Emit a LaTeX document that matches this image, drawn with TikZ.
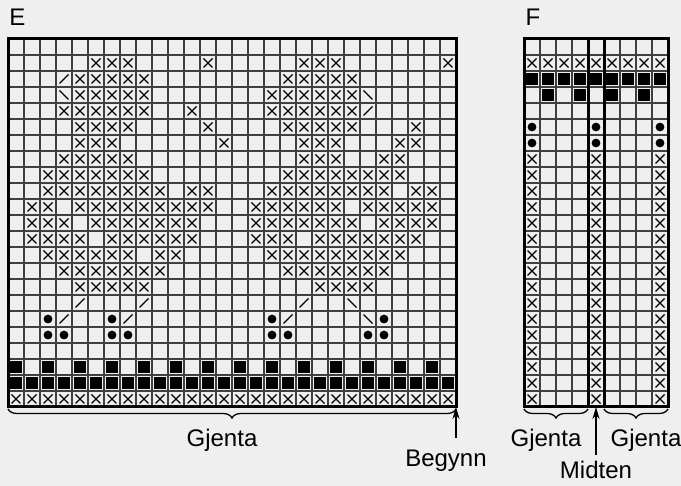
\documentclass[tikz,border=0pt]{standalone}
\usepackage{fontspec}
\setmainfont{Liberation Sans}
\usetikzlibrary{decorations.pathreplacing,arrows.meta}
\definecolor{bgc}{HTML}{EFEFEF}
% symbol helpers: #1 = x offset of chart, #2 = row, #3 = list of columns
\newcommand{\kX}[3]{\foreach \c in {#3}{\draw[xmark] ({#1+16*\c-4.5},{16*#2+31-4.5}) -- ++(9,9) ({#1+16*\c-4.5},{16*#2+31+4.5}) -- ++(9,-9);}}
\newcommand{\kSq}[3]{\foreach \c in {#3}{\fill ({#1+16*\c-5.7},{16*#2+31-5.7}) rectangle ++(11.4,11.4);}}
\newcommand{\kDot}[3]{\foreach \c in {#3}{\fill ({#1+16*\c},{16*#2+31}) circle[radius=4.4pt];}}
\newcommand{\kSl}[3]{\foreach \c in {#3}{\draw[xmark] ({#1+16*\c-4.5},{16*#2+31+4.5}) -- ++(9,-9);}}
\newcommand{\kBs}[3]{\foreach \c in {#3}{\draw[xmark] ({#1+16*\c-4.5},{16*#2+31-4.5}) -- ++(9,9);}}
\begin{document}
\begin{tikzpicture}[x=1pt,y=-1pt,
  gridline/.style={line width=1.2pt, draw=black!75},
  frame/.style={line width=3pt, draw=black},
  xmark/.style={line width=1.3pt},
  lbl/.style={font=\fontsize{24}{28}\selectfont, inner sep=0pt, anchor=base},
  bracestyle/.style={decorate, decoration={brace, amplitude=9pt, mirror}, line width=1.3pt},
  arr/.style={-{Stealth[length=12pt,width=7pt]}, line width=1.8pt}]
\fill[bgc] (0,0) rectangle (681,486);
\useasboundingbox (0,0) rectangle (681,486);

% ---------- Chart E ----------
\foreach \i in {1,...,27} \draw[gridline] ({8+16*\i},39) -- ({8+16*\i},407);
\foreach \j in {1,...,22} \draw[gridline] (8,{39+16*\j}) -- (456,{39+16*\j});
\kX{0}{2}{6,7,8,13,19,20,21,28}
\kX{0}{3}{5,6,7,8,9,18,19,20,21,22}
\kSl{0}{3}{4}
\kX{0}{4}{5,6,7,8,9,17,18,19,20,21,22}
\kBs{0}{4}{4,23}
\kX{0}{5}{4,5,6,7,8,9,12,17,18,19,20,21,22}
\kSl{0}{5}{23}
\kX{0}{6}{5,6,7,8,13,18,19,20,21,22,26}
\kX{0}{7}{5,6,7,14,19,20,21,25,26}
\kX{0}{8}{4,5,6,7,8,19,20,21,24,25}
\kX{0}{9}{3,4,5,6,7,8,9,18,19,20,21,22,23,24,25}
\kX{0}{10}{3,4,5,6,7,8,9,10,12,13,17,18,19,20,21,22,23,24,26,27}
\kX{0}{11}{2,3,5,6,7,8,9,10,11,12,13,16,17,18,19,20,21,23,24,25,26,27}
\kX{0}{12}{2,3,4,6,7,8,9,10,11,12,16,17,18,19,20,21,22,24,25,26,27}
\kX{0}{13}{2,3,4,5,7,8,9,10,11,12,16,17,18,20,21,22,23,24,25,26}
\kX{0}{14}{3,4,5,6,7,8,10,11,17,18,19,20,21,22,23,24,25}
\kX{0}{15}{4,5,6,7,8,9,10,18,19,20,21,22,23,24}
\kX{0}{16}{5,6,7,8,9,20,21,22,23}
\kSl{0}{17}{5,9,19}
\kBs{0}{17}{22}
\kDot{0}{18}{3,7,17,24}
\kSl{0}{18}{4,8,18}
\kBs{0}{18}{23}
\kDot{0}{19}{3,4,7,8,17,18,23,24}
\kSq{0}{21}{1,3,...,27}
\kSq{0}{22}{1,...,28}
\kX{0}{23}{1,...,28}
\draw[frame] (8,39) rectangle (456,407);

% ---------- Chart F ----------
\foreach \i in {1,...,8} \draw[gridline] ({524+16*\i},39) -- ({524+16*\i},407);
\foreach \j in {1,...,22} \draw[gridline] (524,{39+16*\j}) -- (668,{39+16*\j});
\kX{516}{2}{1,...,9}
\kSq{516}{3}{1,...,9}
\kSq{516}{4}{2,4,6,8}
\kDot{516}{6}{1,5,9}
\kDot{516}{7}{1,5,9}
\foreach \r in {8,...,23} {\kX{516}{\r}{1,5,9}}
\draw[frame] (588,39) -- (588,407);
\draw[frame] (604,39) -- (604,407);
\draw[frame] (524,39) rectangle (668,407);

% ---------- labels ----------
\node[lbl] (labE) at (17.5,26) {E};
\node[lbl] (labF) at (533,26) {F};

\coordinate (eL) at (8,409);
\coordinate (eR) at (456,409);
\draw[bracestyle] (eL) -- (eR);
\node[lbl] (gE) at (222,447) {Gjenta};

\coordinate (fL1) at (524,409);
\coordinate (fR1) at (588,409);
\draw[bracestyle] (fL1) -- (fR1);
\coordinate (fL2) at (604,409);
\coordinate (fR2) at (668,409);
\draw[bracestyle] (fL2) -- (fR2);
\node[lbl] (gF1) at (546,447) {Gjenta};
\node[lbl] (gF2) at (646,447) {Gjenta};

\node[lbl] (beg) at (446,467) {Begynn};
\coordinate (begS) at (456,438);
\coordinate (begT) at (456,407);
\draw[arr] (begS) -- (begT);

\node[lbl] (mid) at (596,479) {Midten};
\coordinate (midS) at (596,455);
\coordinate (midT) at (596,407);
\draw[arr] (midS) -- (midT);
\end{tikzpicture}
\end{document}
